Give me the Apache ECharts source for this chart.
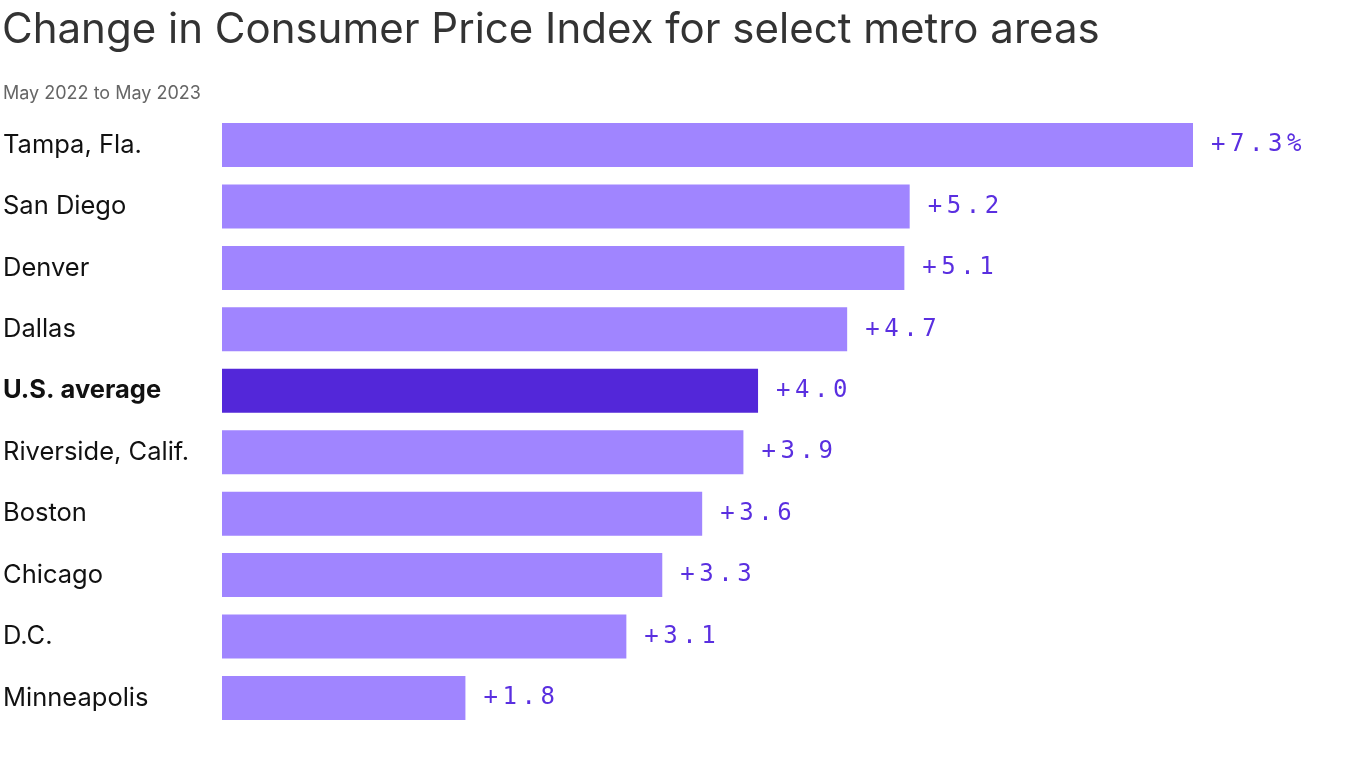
<!DOCTYPE html>
<html>
<head>
<meta charset="utf-8">
<script src="https://cdn.jsdelivr.net/npm/echarts@6/dist/echarts.min.js"></script>
<style>
html,body{margin:0;padding:0;background:#fff;}
#chart{width:1366px;height:768px;}
</style>
</head>
<body>
<div id="chart"></div>
<script>
const categories = ["Tampa, Fla.", "San Diego", "Denver", "Dallas", "U.S. average", "Riverside, Calif.", "Boston", "Chicago", "D.C.", "Minneapolis"];
const values = [7.3, 5.17, 5.13, 4.70, 4.03, 3.92, 3.61, 3.31, 3.04, 1.83];
const valueLabels = ["+7.3%", "+5.2", "+5.1", "+4.7", "+4.0", "+3.9", "+3.6", "+3.3", "+3.1", "+1.8"];
const highlight = "U.S. average";

const chart = echarts.init(document.getElementById('chart'), null, {renderer: 'canvas'});
const option = {
  animation: false,
  backgroundColor: '#ffffff',
  title: [
    {
      text: 'Change in Consumer Price Index for select metro areas',
      left: -3, top: 4,
      textStyle: {fontFamily: 'Inter', fontSize: 42, fontWeight: 'normal', color: '#333333'}
    },
    {
      text: 'May 2022 to May 2023',
      left: -2, top: 80,
      textStyle: {fontFamily: 'Inter', fontSize: 18, fontWeight: 'normal', color: '#666666'}
    }
  ],
  grid: {left: 217, top: 114.3, width: 976, height: 614.4, containLabel: false},
  xAxis: {
    type: 'value', min: 0, max: 7.3,
    show: false
  },
  yAxis: {
    type: 'category',
    data: categories,
    inverse: true,
    axisLine: {show: false},
    axisTick: {show: false},
    splitLine: {show: false},
    axisLabel: {
      align: 'left',
      margin: 219,
      formatter: function (v) { return v === highlight ? '{b|' + v + '}' : '{n|' + v + '}'; },
      rich: {
        n: {fontFamily: 'Inter', fontSize: 25.5, color: '#111111'},
        b: {fontFamily: 'Inter', fontSize: 25.5, fontWeight: 'bold', color: '#111111'}
      }
    }
  },
  series: [{
    type: 'bar',
    barWidth: 44,
    data: values.map(function (v, i) {
      return {
        value: v,
        itemStyle: {color: categories[i] === highlight ? '#5327d9' : '#a085ff'}
      };
    }),
    label: {
      show: true,
      position: 'right',
      distance: 18,
      formatter: function (p) {
        return valueLabels[p.dataIndex].split('').map(function (ch) { return '{c|' + ch + '}'; }).join('');
      },
      rich: {
        c: {fontFamily: 'DejaVu Sans Mono', fontSize: 24, color: '#5a2fe0', width: 19, align: 'left'}
      }
    }
  }]
};
chart.setOption(option);
</script>
</body>
</html>
